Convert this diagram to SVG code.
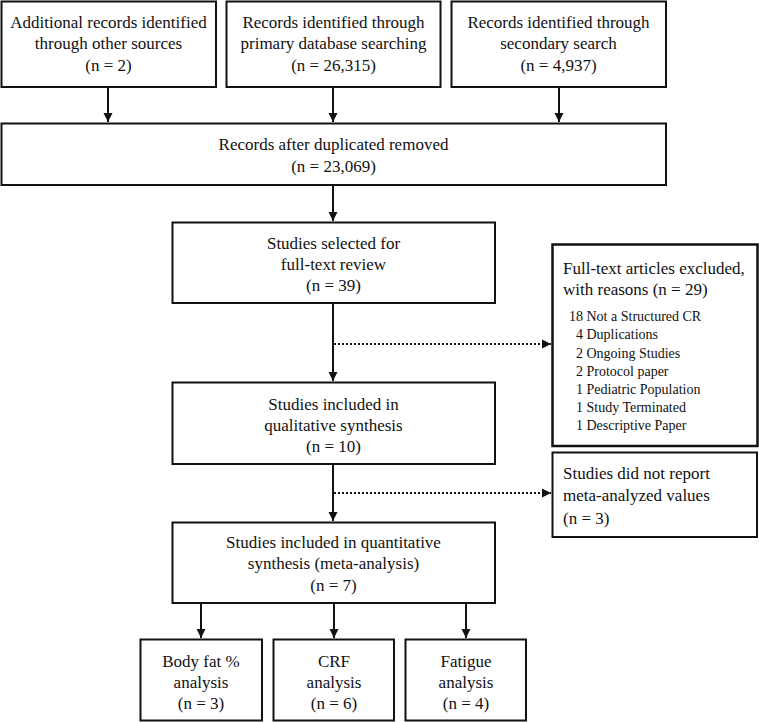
<svg xmlns="http://www.w3.org/2000/svg" width="759" height="722" viewBox="0 0 759 722">
<style>
.box{fill:#fff;stroke:#111;stroke-width:2}
.t{font-family:"Liberation Serif","Times New Roman",serif;font-size:17px;fill:#111}
.c{text-anchor:middle}
.s{font-size:14px}
.ln{stroke:#111;stroke-width:2;fill:none}
.dot{stroke:#111;stroke-width:2;fill:none;stroke-dasharray:2 2}
</style>
<defs>
<marker id="ah" markerUnits="userSpaceOnUse" markerWidth="10" markerHeight="10" refX="9" refY="5" orient="auto">
<path d="M0,0.5 L9,5 L0,9.5 Z" fill="#111"/>
</marker>
</defs>
<rect width="759" height="722" fill="#fff"/>
<g id="connectors">
<line class="ln" x1="108" y1="87" x2="108" y2="122" marker-end="url(#ah)"/>
<line class="ln" x1="333" y1="87" x2="333" y2="122" marker-end="url(#ah)"/>
<line class="ln" x1="559" y1="87" x2="559" y2="122" marker-end="url(#ah)"/>
<line class="ln" x1="333" y1="185" x2="333" y2="221" marker-end="url(#ah)"/>
<line class="ln" x1="333" y1="303" x2="333" y2="381" marker-end="url(#ah)"/>
<line class="dot" x1="334" y1="344" x2="551" y2="344" marker-end="url(#ah)"/>
<line class="ln" x1="333" y1="464" x2="333" y2="521" marker-end="url(#ah)"/>
<line class="dot" x1="334" y1="493" x2="551" y2="493" marker-end="url(#ah)"/>
<line class="ln" x1="201" y1="603" x2="201" y2="638" marker-end="url(#ah)"/>
<line class="ln" x1="334" y1="603" x2="334" y2="638" marker-end="url(#ah)"/>
<line class="ln" x1="466" y1="603" x2="466" y2="638" marker-end="url(#ah)"/>
</g>
<g id="other-sources">
<rect class="box" x="1.5" y="1.5" width="214.5" height="85.5"/>
<text class="t c" x="108.5" y="28">Additional records identified</text>
<text class="t c" x="108.5" y="49">through other sources</text>
<text class="t c" x="108.5" y="71">(n = 2)</text>
</g>
<g id="primary-search">
<rect class="box" x="226.5" y="1.5" width="214" height="85.5"/>
<text class="t c" x="333.5" y="28">Records identified through</text>
<text class="t c" x="333.5" y="49">primary database searching</text>
<text class="t c" x="333.5" y="71">(n = 26,315)</text>
</g>
<g id="secondary-search">
<rect class="box" x="451.5" y="1.5" width="214.5" height="85.5"/>
<text class="t c" x="558.5" y="28">Records identified through</text>
<text class="t c" x="558.5" y="49">secondary search</text>
<text class="t c" x="558.5" y="71">(n = 4,937)</text>
</g>
<g id="dedup">
<rect class="box" x="1.5" y="123.5" width="664.5" height="61.5"/>
<text class="t c" x="333.5" y="150">Records after duplicated removed</text>
<text class="t c" x="333.5" y="172">(n = 23,069)</text>
</g>
<g id="fulltext">
<rect class="box" x="172.5" y="222.5" width="322.5" height="80.5"/>
<text class="t c" x="333.5" y="249">Studies selected for</text>
<text class="t c" x="333.5" y="270">full-text review</text>
<text class="t c" x="333.5" y="291">(n = 39)</text>
</g>
<g id="excluded">
<rect class="box" x="552.5" y="244.5" width="205" height="201.5" style="stroke-width:2.5"/>
<text class="t" x="563" y="274">Full-text articles excluded,</text>
<text class="t" x="563" y="295">with reasons (n = 29)</text>
<text class="t s" x="569" y="321">18 Not a Structured CR</text>
<text class="t s" x="576" y="339">4 Duplications</text>
<text class="t s" x="576" y="357.5">2 Ongoing Studies</text>
<text class="t s" x="576" y="376">2 Protocol paper</text>
<text class="t s" x="576" y="394">1 Pediatric Population</text>
<text class="t s" x="576" y="412">1 Study Terminated</text>
<text class="t s" x="576" y="430">1 Descriptive Paper</text>
</g>
<g id="qualitative">
<rect class="box" x="172.5" y="382.5" width="322.5" height="81.5"/>
<text class="t c" x="333.5" y="410">Studies included in</text>
<text class="t c" x="333.5" y="431">qualitative synthesis</text>
<text class="t c" x="333.5" y="452">(n = 10)</text>
</g>
<g id="not-reported">
<rect class="box" x="552.5" y="452.5" width="204.5" height="84.5"/>
<text class="t" x="563" y="479">Studies did not report</text>
<text class="t" x="563" y="501">meta-analyzed values</text>
<text class="t" x="563" y="524">(n = 3)</text>
</g>
<g id="quantitative">
<rect class="box" x="172.5" y="522.5" width="322.5" height="80.5"/>
<text class="t c" x="333.5" y="548">Studies included in quantitative</text>
<text class="t c" x="333.5" y="569">synthesis (meta-analysis)</text>
<text class="t c" x="333.5" y="591">(n = 7)</text>
</g>
<g id="bodyfat">
<rect class="box" x="140.5" y="639.5" width="121.5" height="81"/>
<text class="t c" x="201" y="667">Body fat %</text>
<text class="t c" x="201" y="688">analysis</text>
<text class="t c" x="201" y="709">(n = 3)</text>
</g>
<g id="crf">
<rect class="box" x="273.5" y="639.5" width="120.5" height="81"/>
<text class="t c" x="334" y="667">CRF</text>
<text class="t c" x="334" y="688">analysis</text>
<text class="t c" x="334" y="709">(n = 6)</text>
</g>
<g id="fatigue">
<rect class="box" x="405.5" y="639.5" width="120.5" height="81"/>
<text class="t c" x="466" y="667">Fatigue</text>
<text class="t c" x="466" y="688">analysis</text>
<text class="t c" x="466" y="709">(n = 4)</text>
</g>
</svg>
